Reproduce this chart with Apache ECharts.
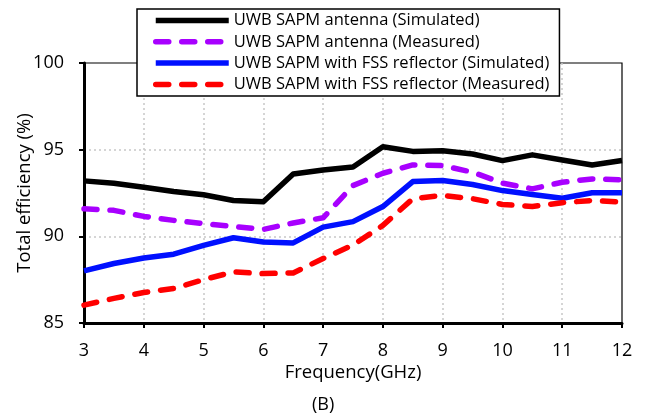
<!DOCTYPE html>
<html>
<head>
<meta charset="utf-8">
<script src="https://cdn.jsdelivr.net/npm/echarts@6/dist/echarts.min.js"></script>
<style>
  html, body { margin: 0; padding: 0; background: #fff; }
  #main { width: 647px; height: 415px; }
</style>
</head>
<body>
<div id="main"></div>
<script>
// frequency points (GHz)
let freq = [3, 3.5, 4, 4.5, 5, 5.5, 6, 6.5, 7, 7.5, 8, 8.5, 9, 9.5, 10, 10.5, 11, 11.5, 12];

// total efficiency (%)
let antSim  = [93.2, 93.06, 92.83, 92.59, 92.4, 92.07, 92.0, 93.6, 93.83, 94.0, 95.17, 94.9, 94.94, 94.75, 94.37, 94.7, 94.4, 94.12, 94.37];
let antMeas = [91.59, 91.5, 91.15, 90.92, 90.73, 90.57, 90.4, 90.77, 91.07, 92.93, 93.64, 94.12, 94.08, 93.7, 93.07, 92.74, 93.12, 93.31, 93.26];
let fssSim  = [88.01, 88.43, 88.75, 88.97, 89.48, 89.92, 89.67, 89.62, 90.53, 90.85, 91.72, 93.16, 93.22, 92.99, 92.64, 92.41, 92.2, 92.51, 92.51];
let fssMeas = [86.03, 86.42, 86.76, 86.99, 87.5, 87.95, 87.85, 87.89, 88.72, 89.5, 90.63, 92.17, 92.36, 92.17, 91.84, 91.72, 91.94, 92.07, 91.97];

let names = [
    'UWB SAPM antenna (Simulated)',
    'UWB SAPM antenna (Measured)',
    'UWB SAPM with FSS reflector (Simulated)',
    'UWB SAPM with FSS reflector (Measured)'
];

let xTicks = [3, 4, 5, 6, 7, 8, 9, 10, 11, 12];
let yTicks = [85, 90, 95, 100];

let FONT = 'Open Sans';

function pairs(ys) {
    return freq.map((x, i) => [x, ys[i]]);
}

function line(name, ys, color, dashed) {
    return {
        name: name,
        type: 'line',
        data: pairs(ys),
        symbol: 'none',
        z: 3,
        lineStyle: {
            color: color,
            width: 5.5,
            type: dashed ? [13, 13] : 'solid',
            cap: dashed ? 'round' : 'butt',
            join: 'round'
        },
        itemStyle: { color: color }
    };
}

let myChart = echarts.init(document.getElementById('main'));

let option = {
    animation: false,
    backgroundColor: '#fff',
    textStyle: { fontFamily: FONT },
    grid: {
        left: 84,
        right: 25,
        top: 63,
        bottom: 92,
        containLabel: false,
        outerBoundsMode: 'none',
        show: true,
        borderColor: '#000',
        borderWidth: 1.2
    },
    legend: {
        orient: 'vertical',
        left: 137,
        top: 9,
        padding: [3, 10, 3, 16],
        itemWidth: 73,
        itemHeight: 14,
        itemGap: 4.3,
        backgroundColor: '#fff',
        borderColor: '#000',
        borderWidth: 1.5,
        z: 10,
        textStyle: { fontFamily: FONT, fontSize: 16.5, lineHeight: 16, color: '#000' },
        itemStyle: { opacity: 0 },
        lineStyle: { width: 5.5, opacity: 1 },
        data: names
    },
    xAxis: {
        type: 'value',
        min: 3,
        max: 12,
        interval: 1,
        name: 'Frequency(GHz)',
        nameLocation: 'middle',
        nameGap: 40,
        nameMoveOverlap: false,
        nameTextStyle: { fontFamily: FONT, fontSize: 18.5, color: '#000' },
        axisLine: { onZero: false, lineStyle: { color: '#000', width: 3 } },
        axisTick: { show: true, length: 5, lineStyle: { color: '#000', width: 2 } },
        axisLabel: {
            margin: 19,
            fontFamily: FONT,
            fontSize: 18,
            color: '#000',
            customValues: xTicks
        },
        splitLine: { show: true, showMinLine: false, showMaxLine: false, lineStyle: { color: '#c8c8c8', type: [2, 3], width: 1.5 } }
    },
    yAxis: {
        type: 'value',
        min: 85,
        max: 100,
        interval: 5,
        name: 'Total efficiency (%)',
        nameLocation: 'middle',
        nameGap: 50,
        nameMoveOverlap: false,
        nameRotate: 90,
        nameTextStyle: { fontFamily: FONT, fontSize: 18.5, color: '#000' },
        axisLine: { show: true, onZero: false, lineStyle: { color: '#000', width: 3 } },
        axisTick: { show: true, length: 5, lineStyle: { color: '#000', width: 2 } },
        axisLabel: {
            margin: 20,
            fontFamily: FONT,
            fontSize: 18,
            color: '#000',
            customValues: yTicks
        },
        splitLine: { show: true, showMinLine: false, showMaxLine: false, lineStyle: { color: '#c8c8c8', type: [2, 3], width: 1.5 } }
    },
    graphic: [{
        type: 'text',
        left: 312,
        top: 396,
        style: { text: '(B)', fontFamily: FONT, fontSize: 18, fill: '#000' }
    }],
    series: [
        line(names[0], antSim, '#000000', false),
        line(names[1], antMeas, '#a800ff', true),
        line(names[2], fssSim, '#0010ff', false),
        line(names[3], fssMeas, '#ff0000', true)
    ]
};

myChart.setOption(option);
</script>
</body>
</html>
